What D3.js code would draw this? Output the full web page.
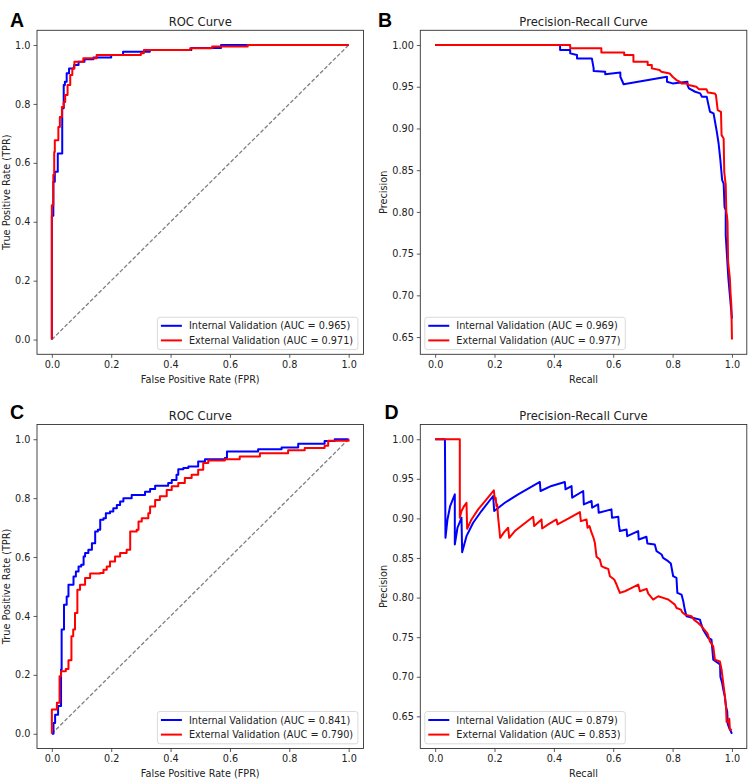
<!DOCTYPE html>
<html>
<head>
<meta charset="utf-8">
<script src="https://cdn.jsdelivr.net/npm/d3@7"></script>
<style>
  body { margin: 0; background: #fff; }
  text { font-family: "DejaVu Sans", sans-serif; fill: #222; }
  .letter { font-family: "Liberation Sans", Arial, sans-serif; font-weight: bold; fill: #000; }
</style>
</head>
<body>
<div id="chart"></div>
<script>
var svgWidth = 748;
var svgHeight = 780;

// ---- data ----
// ROC tick values and PR precision ticks
var unitTicks = [0, 0.2, 0.4, 0.6, 0.8, 1.0];
var precisionTicks = [0.65, 0.70, 0.75, 0.80, 0.85, 0.90, 0.95, 1.00];
var seriesNames = ["Internal Validation", "External Validation"];

// A: ROC, first cohort  [fpr, tpr]
var rocAInternal = [[0,0],[0,0.42],[0.005,0.42],[0.005,0.536],[0.01,0.536],[0.01,0.57],[0.02,0.57],[0.02,0.632],
  [0.035,0.632],[0.035,0.785],[0.04,0.785],[0.04,0.864],[0.044,0.864],[0.044,0.875],[0.05,0.875],[0.05,0.904],
  [0.058,0.904],[0.058,0.92],[0.075,0.92],[0.075,0.932],[0.09,0.932],[0.09,0.943],[0.11,0.943],[0.11,0.952],
  [0.14,0.952],[0.14,0.958],[0.2,0.96],[0.2,0.966],[0.24,0.966],[0.24,0.977],[0.33,0.977],[0.33,0.983],
  [0.47,0.983],[0.47,0.99],[0.57,0.99],[0.57,1.0],[1,1]];
var rocAExternal = [[0,0],[0,0.456],[0.005,0.456],[0.005,0.56],[0.008,0.56],[0.008,0.637],[0.01,0.637],[0.01,0.677],
  [0.022,0.677],[0.022,0.722],[0.027,0.722],[0.027,0.756],[0.034,0.756],[0.034,0.79],[0.04,0.79],[0.04,0.807],
  [0.045,0.807],[0.045,0.83],[0.053,0.83],[0.053,0.864],[0.062,0.864],[0.062,0.898],[0.069,0.898],[0.069,0.92],
  [0.076,0.92],[0.076,0.943],[0.106,0.943],[0.106,0.955],[0.151,0.955],[0.151,0.966],[0.3,0.966],[0.3,0.972],
  [0.31,0.972],[0.31,0.983],[0.466,0.983],[0.466,0.989],[0.54,0.989],[0.54,0.995],[0.66,0.995],[0.66,1.0],[1,1]];
var aucA = [0.965, 0.971];

// B: precision-recall, first cohort  [recall, precision]
var prBInternal = [[0,1],[0.421,1],[0.421,0.994],[0.455,0.994],[0.455,0.99],[0.478,0.988],[0.478,0.984],[0.528,0.984],
  [0.534,0.972],[0.534,0.969],[0.573,0.968],[0.573,0.965],[0.624,0.967],[0.624,0.962],[0.635,0.953],[0.781,0.962],
  [0.781,0.956],[0.8,0.954],[0.85,0.956],[0.85,0.952],[0.855,0.948],[0.876,0.944],[0.893,0.942],[0.899,0.938],
  [0.915,0.938],[0.921,0.928],[0.926,0.92],[0.938,0.918],[0.944,0.906],[0.949,0.896],[0.955,0.882],[0.961,0.862],
  [0.967,0.838],[0.972,0.834],[0.975,0.806],[0.979,0.802],[0.979,0.772],[0.988,0.72],[0.994,0.696],[0.999,0.676],[1.0,0.672]];
var prBExternal = [[0,1],[0.455,1],[0.455,0.996],[0.56,0.996],[0.56,0.991],[0.637,0.991],[0.637,0.988],[0.668,0.988],
  [0.668,0.98],[0.716,0.98],[0.716,0.976],[0.73,0.976],[0.73,0.972],[0.756,0.97],[0.762,0.968],[0.79,0.966],
  [0.8,0.962],[0.813,0.958],[0.824,0.956],[0.83,0.954],[0.849,0.954],[0.854,0.952],[0.88,0.95],[0.889,0.947],
  [0.914,0.947],[0.919,0.943],[0.942,0.942],[0.946,0.94],[0.952,0.922],[0.963,0.92],[0.965,0.892],[0.972,0.888],
  [0.974,0.848],[0.979,0.832],[0.981,0.8],[0.983,0.796],[0.985,0.788],[0.987,0.74],[0.993,0.72],[0.995,0.704],
  [0.998,0.688],[1.0,0.647]];
var aucB = [0.969, 0.977];

// C: ROC, second cohort  [fpr, tpr] (each point = where the curve steps up to)
var rocCInternal = [[0,0],[0.0056,0.037],[0.011,0.037],[0.011,0.065],[0.021,0.065],[0.021,0.094],[0.028,0.094],
  [0.031,0.218],[0.033,0.354],[0.039,0.354],[0.041,0.438],[0.05,0.438],[0.05,0.466],[0.056,0.466],[0.056,0.506],
  [0.067,0.506],[0.073,0.534],[0.081,0.551],[0.09,0.568],[0.099,0.574],[0.107,0.602],[0.112,0.614],[0.123,0.625],
  [0.135,0.647],[0.146,0.687],[0.155,0.693],[0.163,0.727],[0.174,0.732],[0.182,0.749],[0.196,0.755],[0.207,0.766],
  [0.219,0.777],[0.23,0.789],[0.241,0.8],[0.255,0.8],[0.269,0.811],[0.314,0.811],[0.314,0.822],[0.331,0.831],
  [0.348,0.842],[0.392,0.842],[0.392,0.851],[0.404,0.862],[0.42,0.879],[0.426,0.898],[0.443,0.902],[0.46,0.907],
  [0.493,0.924],[0.516,0.932],[0.583,0.936],[0.59,0.936],[0.59,0.958],[0.695,0.966],[0.774,0.972],[0.83,0.985],
  [0.919,0.994],[0.953,1.0],[1,1]];
var rocCExternal = [[0,0],[0,0.082],[0.017,0.082],[0.017,0.105],[0.026,0.105],[0.026,0.195],[0.031,0.212],
  [0.047,0.212],[0.047,0.22],[0.056,0.22],[0.056,0.25],[0.066,0.25],[0.066,0.331],[0.072,0.354],[0.078,0.41],
  [0.086,0.489],[0.095,0.506],[0.112,0.529],[0.129,0.544],[0.163,0.546],[0.174,0.557],[0.185,0.568],[0.196,0.585],
  [0.213,0.602],[0.23,0.614],[0.252,0.625],[0.264,0.687],[0.286,0.693],[0.292,0.721],[0.303,0.732],[0.325,0.749],
  [0.331,0.772],[0.348,0.794],[0.364,0.806],[0.387,0.828],[0.404,0.84],[0.426,0.851],[0.448,0.868],[0.471,0.879],
  [0.493,0.896],[0.51,0.919],[0.527,0.928],[0.583,0.932],[0.633,0.941],[0.701,0.952],[0.796,0.963],[0.852,0.97],
  [0.919,0.978],[0.931,0.995],[1,1]];
var aucC = [0.841, 0.790];

// D: precision-recall, second cohort  [recall, precision]
var prDInternal = [[0,1],[0.033,1],[0.0348,0.8755],[0.0416,0.8987],[0.0506,0.9156],[0.0663,0.9304],[0.0663,0.8671],
  [0.0753,0.8882],[0.0888,0.9008],[0.091,0.8574],[0.1056,0.8776],[0.128,0.8945],[0.156,0.9093],[0.1955,0.9283],
  [0.1989,0.9093],[0.2348,0.9198],[0.2797,0.9304],[0.3134,0.9376],[0.3528,0.946],[0.355,0.9346],[0.392,0.941],
  [0.437,0.946],[0.4393,0.9367],[0.4595,0.9409],[0.4617,0.9262],[0.4988,0.9346],[0.501,0.9177],[0.527,0.922],
  [0.529,0.9135],[0.549,0.9177],[0.551,0.9072],[0.594,0.9114],[0.596,0.9008],[0.617,0.9021],[0.619,0.8924],
  [0.6224,0.884],[0.645,0.886],[0.647,0.8776],[0.684,0.884],[0.686,0.8734],[0.712,0.8768],[0.715,0.8684],
  [0.74,0.8671],[0.746,0.8586],[0.763,0.8544],[0.768,0.8502],[0.785,0.846],[0.794,0.843],[0.802,0.827],
  [0.813,0.825],[0.816,0.806],[0.83,0.8038],[0.836,0.7954],[0.841,0.7848],[0.847,0.7764],[0.87,0.7743],
  [0.892,0.7722],[0.897,0.7658],[0.903,0.7595],[0.92,0.749],[0.931,0.7468],[0.933,0.7384],[0.937,0.7215],
  [0.954,0.7173],[0.96,0.715],[0.961,0.70],[0.967,0.692],[0.971,0.6835],[0.976,0.675],[0.98,0.662],
  [0.984,0.656],[0.986,0.64],[0.991,0.635],[0.995,0.632],[1.0,0.628]];
var prDExternal = [[0,1],[0.0831,1],[0.0831,0.9008],[0.0888,0.9093],[0.0977,0.9156],[0.1056,0.9198],[0.1079,0.8869],
  [0.1225,0.8987],[0.1449,0.9114],[0.173,0.924],[0.1977,0.9354],[0.2011,0.924],[0.204,0.926],[0.2067,0.9156],
  [0.209,0.9177],[0.2123,0.9008],[0.2157,0.8882],[0.2191,0.8755],[0.2326,0.8827],[0.246,0.8882],[0.2494,0.8755],
  [0.2685,0.884],[0.2966,0.8924],[0.3303,0.9021],[0.3337,0.8903],[0.3584,0.8987],[0.3606,0.8873],[0.3809,0.8924],
  [0.4089,0.8987],[0.4123,0.8924],[0.4483,0.8996],[0.4876,0.908],[0.491,0.8966],[0.51,0.8987],[0.5134,0.8882],
  [0.52,0.8903],[0.5269,0.8819],[0.5325,0.8768],[0.5381,0.8692],[0.5438,0.8515],[0.555,0.8481],[0.5606,0.8397],
  [0.5718,0.8376],[0.5831,0.8363],[0.5887,0.827],[0.6033,0.8228],[0.6112,0.8165],[0.6224,0.8059],[0.6393,0.808],
  [0.6505,0.8101],[0.6842,0.8165],[0.6898,0.808],[0.7123,0.811],[0.718,0.8051],[0.7347,0.7975],[0.7516,0.8017],
  [0.7685,0.7996],[0.7853,0.7975],[0.8078,0.7911],[0.8134,0.7869],[0.828,0.7848],[0.8325,0.7814],[0.8415,0.7785],
  [0.864,0.7764],[0.8718,0.7722],[0.8864,0.7679],[0.8976,0.7637],[0.9066,0.7595],[0.9179,0.7544],[0.9258,0.7447],
  [0.937,0.7384],[0.9426,0.7215],[0.9594,0.7194],[0.965,0.7089],[0.9707,0.692],[0.9763,0.6751],[0.98,0.662],
  [0.982,0.643],[0.99,0.643],[0.991,0.647],[0.993,0.633],[1.0,0.633]];
var aucD = [0.879, 0.853];

var svg = d3.select("#chart")
  .append("svg")
  .attr("width", svgWidth)
  .attr("height", svgHeight);

svg.append("rect")
  .attr("width", svgWidth)
  .attr("height", svgHeight)
  .attr("fill", "#fff");

var colors = ["#0000ff", "#ff0000"];

// draws one subplot: frame, axes, curves, legend
function drawPanel(p) {
  var width = p.width;
  var height = p.height;

  var g = svg.append("g")
    .attr("transform", `translate(${p.left}, ${p.top})`);

  // x always runs 0..1 with matplotlib's 5% margin
  var xScale = d3.scaleLinear()
    .domain([-0.05, 1.05])
    .range([0, width]);

  var yDomain;
  if (p.kind === "roc") {
    yDomain = [-0.05, 1.05];
  }
  else {
    var all = p.series[0].concat(p.series[1]);
    var lo = d3.min(all, d => d[1]);
    var hi = d3.max(all, d => d[1]);
    var pad = (hi - lo) * 0.05;
    yDomain = [lo - pad, hi + pad];
  }

  var yScale = d3.scaleLinear()
    .domain(yDomain)
    .range([height, 0]);

  var bottomAxis = d3.axisBottom(xScale)
    .tickValues(unitTicks)
    .tickFormat(d3.format(".1f"))
    .tickSizeInner(3.5)
    .tickSizeOuter(0)
    .tickPadding(3);

  var leftAxis = d3.axisLeft(yScale)
    .tickValues(p.kind === "roc" ? unitTicks : precisionTicks)
    .tickFormat(d3.format(p.kind === "roc" ? ".1f" : ".2f"))
    .tickSizeInner(3.5)
    .tickSizeOuter(0)
    .tickPadding(3);

  var xAxis = g.append("g")
    .attr("transform", `translate(0, ${height})`)
    .call(bottomAxis);

  var yAxis = g.append("g")
    .call(leftAxis);

  [xAxis, yAxis].forEach(function(ax) {
    ax.select(".domain").remove();
    ax.selectAll("line").attr("stroke", "#333").attr("stroke-width", 0.8);
    ax.selectAll("text")
      .attr("font-family", "DejaVu Sans, sans-serif")
      .attr("font-size", "9.7px")
      .attr("fill", "#222");
  });

  // chance line on the ROC panels
  if (p.kind === "roc") {
    g.append("line")
      .attr("x1", xScale(0))
      .attr("y1", yScale(0))
      .attr("x2", xScale(1))
      .attr("y2", yScale(1))
      .attr("stroke", "#7f7f7f")
      .attr("stroke-width", 1.3)
      .attr("stroke-dasharray", "4,2");
  }

  // ROC curves are staircases, PR curves join their points straight
  var line = d3.line()
    .x(d => xScale(d[0]))
    .y(d => yScale(d[1]))
    .curve(p.kind === "roc" ? d3.curveStepAfter : d3.curveLinear);

  p.series.forEach(function(s, i) {
    g.append("path")
      .datum(s)
      .attr("d", line)
      .attr("fill", "none")
      .attr("stroke", colors[i])
      .attr("stroke-width", 2)
      .attr("stroke-linejoin", "round");
  });

  // frame
  g.append("rect")
    .attr("width", width)
    .attr("height", height)
    .attr("fill", "none")
    .attr("stroke", "#333")
    .attr("stroke-width", 0.9);

  // title, axis labels, panel letter
  g.append("text")
    .attr("x", width / 2)
    .attr("y", -4.5)
    .attr("text-anchor", "middle")
    .attr("font-size", "11.6px")
    .text(p.title);

  g.append("text")
    .attr("x", width / 2)
    .attr("y", height + 28.5)
    .attr("text-anchor", "middle")
    .attr("font-size", "9.7px")
    .text(p.xLabel);

  g.append("text")
    .attr("transform", "rotate(-90)")
    .attr("x", -height / 2)
    .attr("y", p.kind === "roc" ? -26.7 : -33)
    .attr("text-anchor", "middle")
    .attr("font-size", "9.7px")
    .text(p.yLabel);

  svg.append("text")
    .attr("class", "letter")
    .attr("x", p.letterX)
    .attr("y", p.letterY)
    .attr("font-size", "19.5px")
    .text(p.letter);

  // legend
  var legW = 200.5;
  var legH = 32.3;
  var legX = p.legend === "right" ? width - 5.6 - legW : 4.5;
  var legY = height - 4.7 - legH;

  var leg = g.append("g")
    .attr("transform", `translate(${legX}, ${legY})`);

  leg.append("rect")
    .attr("width", legW)
    .attr("height", legH)
    .attr("rx", 2.5)
    .attr("fill", "#fff")
    .attr("fill-opacity", 0.8)
    .attr("stroke", "#d0d0d0")
    .attr("stroke-width", 0.8);

  p.auc.forEach(function(a, i) {
    var yy = 8.5 + i * 14.6;
    leg.append("line")
      .attr("x1", 3.5)
      .attr("x2", 24.5)
      .attr("y1", yy)
      .attr("y2", yy)
      .attr("stroke", colors[i])
      .attr("stroke-width", 2);
    leg.append("text")
      .attr("x", 31.5)
      .attr("y", yy + 3.5)
      .attr("font-size", "9.7px")
      .text(`${seriesNames[i]} (AUC = ${d3.format(".3f")(a)})`);
  });
}

var colLeft = [37, 420.3];
var rowTop = [30.3, 424.5];
var panelW = 326.5;
var panelH = 324;

drawPanel({
  kind: "roc", letter: "A", letterX: 10, letterY: 27.3,
  left: colLeft[0], top: rowTop[0], width: panelW, height: panelH,
  title: "ROC Curve", xLabel: "False Positive Rate (FPR)", yLabel: "True Positive Rate (TPR)",
  series: [rocAInternal, rocAExternal], auc: aucA, legend: "right"
});

drawPanel({
  kind: "pr", letter: "B", letterX: 378, letterY: 27.3,
  left: colLeft[1], top: rowTop[0], width: panelW, height: panelH,
  title: "Precision-Recall Curve", xLabel: "Recall", yLabel: "Precision",
  series: [prBInternal, prBExternal], auc: aucB, legend: "left"
});

drawPanel({
  kind: "roc", letter: "C", letterX: 10, letterY: 419,
  left: colLeft[0], top: rowTop[1], width: panelW, height: panelH,
  title: "ROC Curve", xLabel: "False Positive Rate (FPR)", yLabel: "True Positive Rate (TPR)",
  series: [rocCInternal, rocCExternal], auc: aucC, legend: "right"
});

drawPanel({
  kind: "pr", letter: "D", letterX: 384.5, letterY: 419,
  left: colLeft[1], top: rowTop[1], width: panelW, height: panelH,
  title: "Precision-Recall Curve", xLabel: "Recall", yLabel: "Precision",
  series: [prDInternal, prDExternal], auc: aucD, legend: "left"
});
</script>
</body>
</html>
